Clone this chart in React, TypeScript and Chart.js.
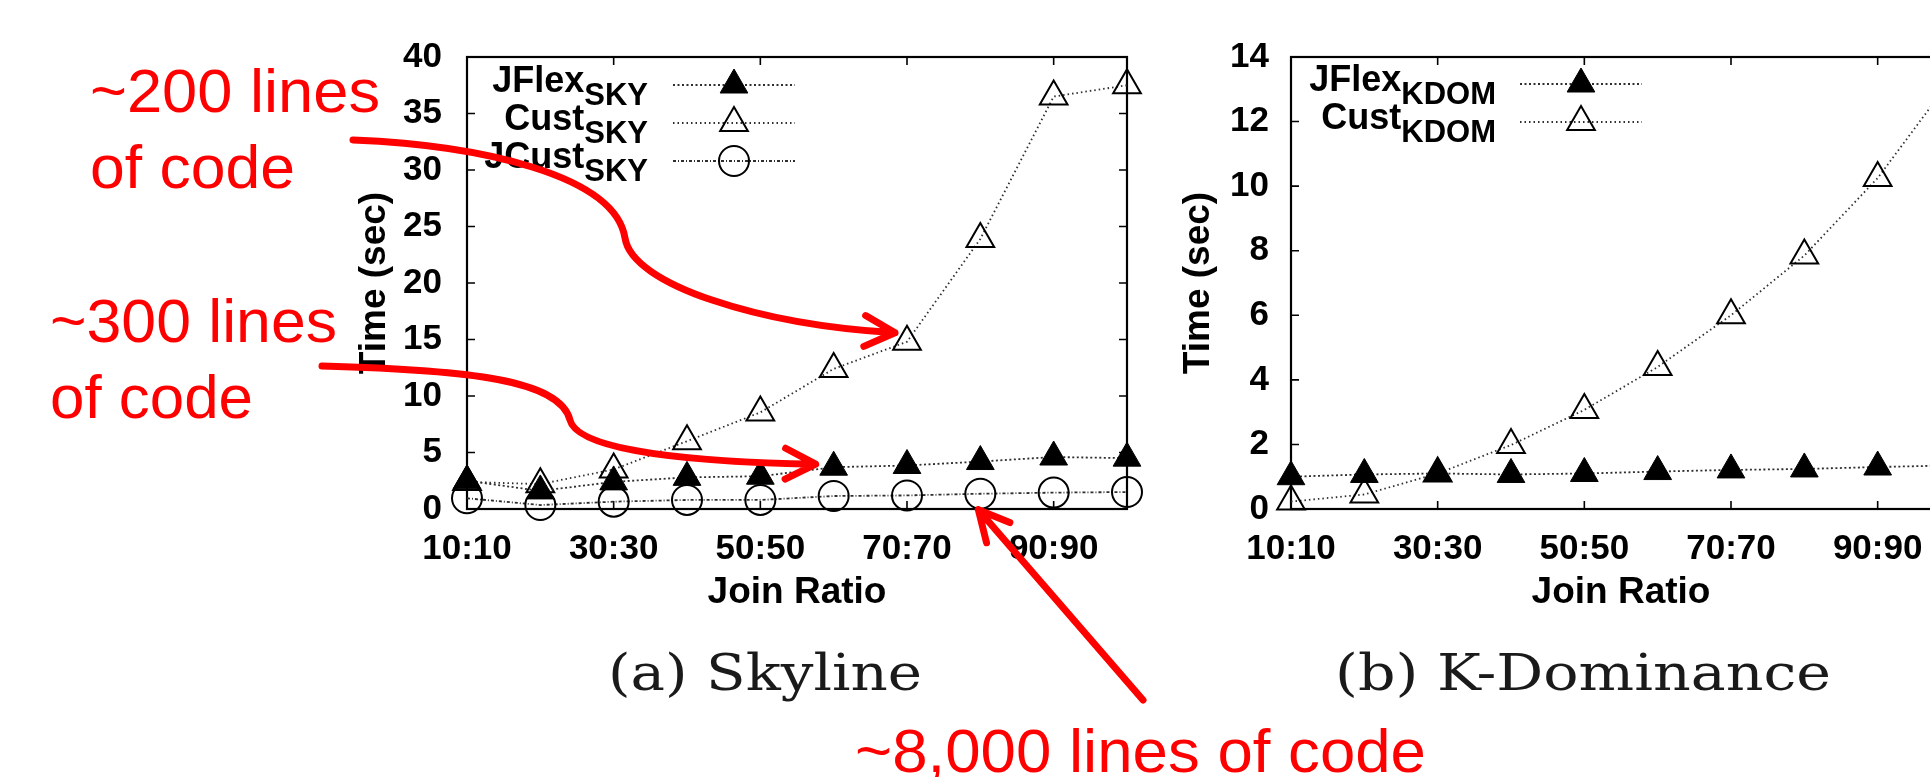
import React, { useEffect, useRef } from 'react';
import { Chart, registerables } from 'chart.js';

Chart.register(...registerables);

// ---------- data ----------
const joinRatios = ['10:10', '20:20', '30:30', '40:40', '50:50', '60:60', '70:70', '80:80', '90:90', '100:100'];
const labelEvery = 2;

const skyJFlex = [2.5, 1.6, 2.4, 2.8, 2.9, 3.7, 3.85, 4.2, 4.6, 4.5];
const skyCust = [2.4, 2.2, 3.5, 6.0, 8.55, 12.4, 14.8, 23.9, 36.5, 37.5];
const skyJCust = [0.95, 0.35, 0.65, 0.8, 0.8, 1.15, 1.2, 1.35, 1.45, 1.5];

const kdomJFlex = [1.0, 1.07, 1.1, 1.07, 1.1, 1.16, 1.21, 1.24, 1.3, 1.35];
const kdomCust = [0.23, 0.45, 1.1, 1.98, 3.07, 4.4, 6.0, 7.85, 10.25, 13.3];

const skyYAxis = [0, 40, 5]; // min, max, step
const kdomYAxis = [0, 14, 2];

const skyNames = ['JFlex', 'Cust', 'JCust'];
const skySub = 'SKY';
const kdomNames = ['JFlex', 'Cust'];
const kdomSub = 'KDOM';

const yTitle = 'Time (sec)';
const xTitle = 'Join Ratio';
const captions = ['(a) Skyline', '(b) K-Dominance'];
const noteLines = ['~200 lines', 'of code', '~300 lines', 'of code', '~8,000 lines of code'];

// ---------- styles ----------
const FONT = 'Liberation Sans';
const RED = '#ff0000';

type Shape = { shape: 'triangle' | 'circle'; filled: boolean; r: number };
const jflexStyle: Shape = { shape: 'triangle', filled: true, r: 16 };
const custStyle: Shape = { shape: 'triangle', filled: false, r: 16 };
const jcustStyle: Shape = { shape: 'circle', filled: false, r: 15 };

function makeDataset(label: string, data: number[], st: Shape, dash: number[]) {
  return {
    label,
    data,
    borderColor: '#2e2e2e',
    borderWidth: 1.8,
    borderDash: dash,
    pointStyle: st.shape,
    pointRadius: st.r,
    pointHoverRadius: st.r,
    pointBackgroundColor: st.filled ? '#000' : 'rgba(0,0,0,0)',
    pointBorderColor: '#000',
    pointBorderWidth: st.filled ? 1 : 2,
    tension: 0,
    fill: false,
    clip: false as any,
    _shape: st,
  } as any;
}

function drawMarker(ctx: CanvasRenderingContext2D, st: Shape, x: number, y: number) {
  const r = st.r;
  ctx.beginPath();
  if (st.shape === 'triangle') {
    for (let k = 0; k < 3; k++) {
      const a = (k * 2 * Math.PI) / 3;
      const px = x + Math.sin(a) * r;
      const py = y - Math.cos(a) * r;
      if (k === 0) ctx.moveTo(px, py);
      else ctx.lineTo(px, py);
    }
    ctx.closePath();
  } else {
    ctx.arc(x, y, r, 0, Math.PI * 2);
  }
  ctx.fillStyle = st.filled ? '#000' : 'rgba(0,0,0,0)';
  ctx.fill();
  ctx.lineWidth = st.filled ? 1 : 2;
  ctx.strokeStyle = '#000';
  ctx.stroke();
}

// gnuplot-like frame with inward ticks (mirrored)
const framePlugin = {
  id: 'gnuFrame',
  beforeDatasetsDraw(chart: any) {
    const { ctx, chartArea: a, scales } = chart;
    const x = scales.x;
    const y = scales.y;
    ctx.save();
    ctx.strokeStyle = '#000';
    ctx.lineWidth = 2.2;
    ctx.strokeRect(a.left, a.top, a.right - a.left, a.bottom - a.top);
    const tl = 8;
    ctx.lineWidth = 1.6;
    ctx.beginPath();
    y.ticks.forEach((t: any) => {
      const py = y.getPixelForValue(t.value);
      ctx.moveTo(a.left, py);
      ctx.lineTo(a.left + tl, py);
      ctx.moveTo(a.right, py);
      ctx.lineTo(a.right - tl, py);
    });
    x.ticks.forEach((t: any, i: number) => {
      if (i % labelEvery !== 0) return;
      const px = x.getPixelForValue(t.value);
      ctx.moveTo(px, a.bottom);
      ctx.lineTo(px, a.bottom - tl);
      ctx.moveTo(px, a.top);
      ctx.lineTo(px, a.top + tl);
    });
    ctx.stroke();
    ctx.restore();
  },
};

function makeLegendPlugin(names: string[], sub: string, textRight: number, lineX0: number, lineX1: number, rowY0: number, rowGap: number) {
  return {
    id: 'gnuLegend',
    afterDatasetsDraw(chart: any) {
      const { ctx } = chart;
      ctx.save();
      names.forEach((name, i) => {
        const ds = chart.data.datasets[i];
        const ry = rowY0 + i * rowGap;
        ctx.font = `bold 36px "${FONT}"`;
        const wMain = ctx.measureText(name).width;
        ctx.font = `bold 31px "${FONT}"`;
        const wSub = ctx.measureText(sub).width;
        const x0 = textRight - wSub - wMain;
        ctx.fillStyle = '#000';
        ctx.textBaseline = 'alphabetic';
        ctx.textAlign = 'left';
        ctx.font = `bold 36px "${FONT}"`;
        ctx.fillText(name, x0, ry + 7);
        ctx.font = `bold 31px "${FONT}"`;
        ctx.fillText(sub, x0 + wMain, ry + 20);
        ctx.beginPath();
        ctx.setLineDash(ds.borderDash);
        ctx.strokeStyle = ds.borderColor;
        ctx.lineWidth = ds.borderWidth;
        ctx.moveTo(lineX0, ry);
        ctx.lineTo(lineX1, ry);
        ctx.stroke();
        ctx.setLineDash([]);
        drawMarker(ctx, ds._shape, (lineX0 + lineX1) / 2, ry);
      });
      ctx.restore();
    },
  };
}

function arrowHead(ctx: CanvasRenderingContext2D, tx: number, ty: number, fx: number, fy: number) {
  const len = 34;
  const ang = 0.47;
  const a = Math.atan2(ty - fy, tx - fx);
  ctx.moveTo(tx - len * Math.cos(a - ang), ty - len * Math.sin(a - ang));
  ctx.lineTo(tx, ty);
  ctx.lineTo(tx - len * Math.cos(a + ang), ty - len * Math.sin(a + ang));
}

const arrowsPlugin = {
  id: 'redArrows',
  afterDraw(chart: any) {
    const { ctx, scales } = chart;
    const x = scales.x;
    const y = scales.y;
    ctx.save();
    ctx.strokeStyle = RED;
    ctx.lineWidth = 7;
    ctx.lineCap = 'round';
    ctx.lineJoin = 'round';

    // ~200 lines -> Cust at 70:70
    const t1x = x.getPixelForValue(6) - 12;
    const t1y = y.getPixelForValue(skyCust[6]) - 9;
    ctx.beginPath();
    ctx.moveTo(353, 140);
    ctx.bezierCurveTo(480, 145, 615, 175, 625, 238);
    ctx.bezierCurveTo(632, 285, 760, t1y - 8, t1x, t1y);
    arrowHead(ctx, t1x, t1y, 760, t1y - 8);
    ctx.stroke();

    // ~300 lines -> JFlex at 60:60
    const t2x = x.getPixelForValue(5) - 18;
    const t2y = y.getPixelForValue(skyJFlex[5]) - 3;
    ctx.beginPath();
    ctx.moveTo(322, 366);
    ctx.bezierCurveTo(470, 370, 560, 380, 570, 420);
    ctx.bezierCurveTo(578, 452, 700, t2y - 2, t2x, t2y);
    arrowHead(ctx, t2x, t2y, 700, t2y - 2);
    ctx.stroke();

    // ~8,000 lines -> JCust at 80:80
    const t3x = x.getPixelForValue(7) - 2;
    const t3y = y.getPixelForValue(skyJCust[7]) + 16;
    ctx.beginPath();
    ctx.moveTo(1143, 700);
    ctx.lineTo(t3x, t3y);
    arrowHead(ctx, t3x, t3y, 1143, 700);
    ctx.stroke();
    ctx.restore();
  },
};

type Cfg = { padLeft: number; padRight: number; yWidth: number; yTitlePad: number; yTickPad: number; yAxis: number[] };

function makeOptions(c: Cfg): any {
  const tickFont = { family: FONT, weight: 'bold' as const, size: 35 };
  const titleFont = { family: FONT, weight: 'bold' as const, size: 37 };
  return {
    responsive: false,
    animation: false,
    events: [],
    layout: { padding: { left: c.padLeft, top: 57, right: c.padRight, bottom: 158 } },
    plugins: { legend: { display: false }, tooltip: { enabled: false }, title: { display: false } },
    scales: {
      x: {
        type: 'category',
        offset: false,
        grid: { display: false, drawTicks: false },
        border: { display: false },
        ticks: {
          autoSkip: false,
          maxRotation: 0,
          minRotation: 0,
          padding: 19,
          color: '#000',
          font: tickFont,
          callback: (_v: any, i: number) => (i % labelEvery === 0 ? joinRatios[i] : ''),
        },
        title: { display: true, text: xTitle, color: '#000', font: titleFont, padding: { top: 0, bottom: 4 } },
        afterFit: (s: any) => {
          s.height = 110;
        },
      },
      y: {
        type: 'linear',
        min: c.yAxis[0],
        max: c.yAxis[1],
        grid: { display: false, drawTicks: false },
        border: { display: false },
        ticks: { stepSize: c.yAxis[2], padding: c.yTickPad, color: '#000', font: tickFont },
        title: { display: true, text: yTitle, color: '#000', font: titleFont, padding: { top: c.yTitlePad, bottom: 0 } },
        afterFit: (s: any) => {
          s.width = c.yWidth;
        },
      },
    },
  };
}

export default function App() {
  const refA = useRef<HTMLCanvasElement>(null);
  const refB = useRef<HTMLCanvasElement>(null);

  useEffect(() => {
    const chartA = new Chart(refA.current as HTMLCanvasElement, {
      type: 'line',
      data: {
        labels: joinRatios,
        datasets: [
          makeDataset(skyNames[0] + skySub, skyJFlex, jflexStyle, [2, 2.5]),
          makeDataset(skyNames[1] + skySub, skyCust, custStyle, [1.5, 3]),
          makeDataset(skyNames[2] + skySub, skyJCust, jcustStyle, [3, 2, 1, 2]),
        ],
      },
      options: makeOptions({ padLeft: 320, padRight: 53, yWidth: 147, yTitlePad: 33, yTickPad: 25, yAxis: skyYAxis }),
      plugins: [framePlugin, makeLegendPlugin(skyNames, skySub, 648, 673, 795, 85, 38), arrowsPlugin],
    });
    const chartB = new Chart(refB.current as HTMLCanvasElement, {
      type: 'line',
      data: {
        labels: joinRatios,
        datasets: [
          makeDataset(kdomNames[0] + kdomSub, kdomJFlex, jflexStyle, [2, 2.5]),
          makeDataset(kdomNames[1] + kdomSub, kdomCust, custStyle, [1.5, 3]),
        ],
      },
      options: makeOptions({ padLeft: 0, padRight: 29, yWidth: 131, yTitlePad: 17, yTickPad: 22, yAxis: kdomYAxis }),
      plugins: [framePlugin, makeLegendPlugin(kdomNames, kdomSub, 336, 360, 482, 84, 38)],
    });
    return () => {
      chartA.destroy();
      chartB.destroy();
    };
  }, []);

  const redText = { fontFamily: `"${FONT}"`, fontSize: 61, fill: RED } as React.CSSProperties;
  const capText = { fontFamily: '"DejaVu Serif"', fontSize: 50, fill: '#1a1a1a' } as React.CSSProperties;

  return (
    <div style={{ position: 'absolute', left: 0, top: 0, width: 1930, height: 777, overflow: 'hidden', background: '#fff' }}>
      <canvas ref={refA} width={1180} height={777} style={{ position: 'absolute', left: 0, top: 0 }} />
      <canvas ref={refB} width={820} height={777} style={{ position: 'absolute', left: 1160, top: 0 }} />
      <svg width={1930} height={777} style={{ position: 'absolute', left: 0, top: 0, pointerEvents: 'none' }}>
        <text x={90} y={112} style={redText} textLength={290} lengthAdjust="spacingAndGlyphs">{noteLines[0]}</text>
        <text x={90} y={188} style={redText} textLength={205} lengthAdjust="spacingAndGlyphs">{noteLines[1]}</text>
        <text x={50} y={342} style={redText} textLength={287} lengthAdjust="spacingAndGlyphs">{noteLines[2]}</text>
        <text x={50} y={418} style={redText} textLength={203} lengthAdjust="spacingAndGlyphs">{noteLines[3]}</text>
        <text x={855} y={772} style={redText} textLength={571} lengthAdjust="spacingAndGlyphs">{noteLines[4]}</text>
        <text x={608} y={690} style={capText} textLength={314} lengthAdjust="spacingAndGlyphs">{captions[0]}</text>
        <text x={1335} y={690} style={capText} textLength={496} lengthAdjust="spacingAndGlyphs">{captions[1]}</text>
      </svg>
    </div>
  );
}
